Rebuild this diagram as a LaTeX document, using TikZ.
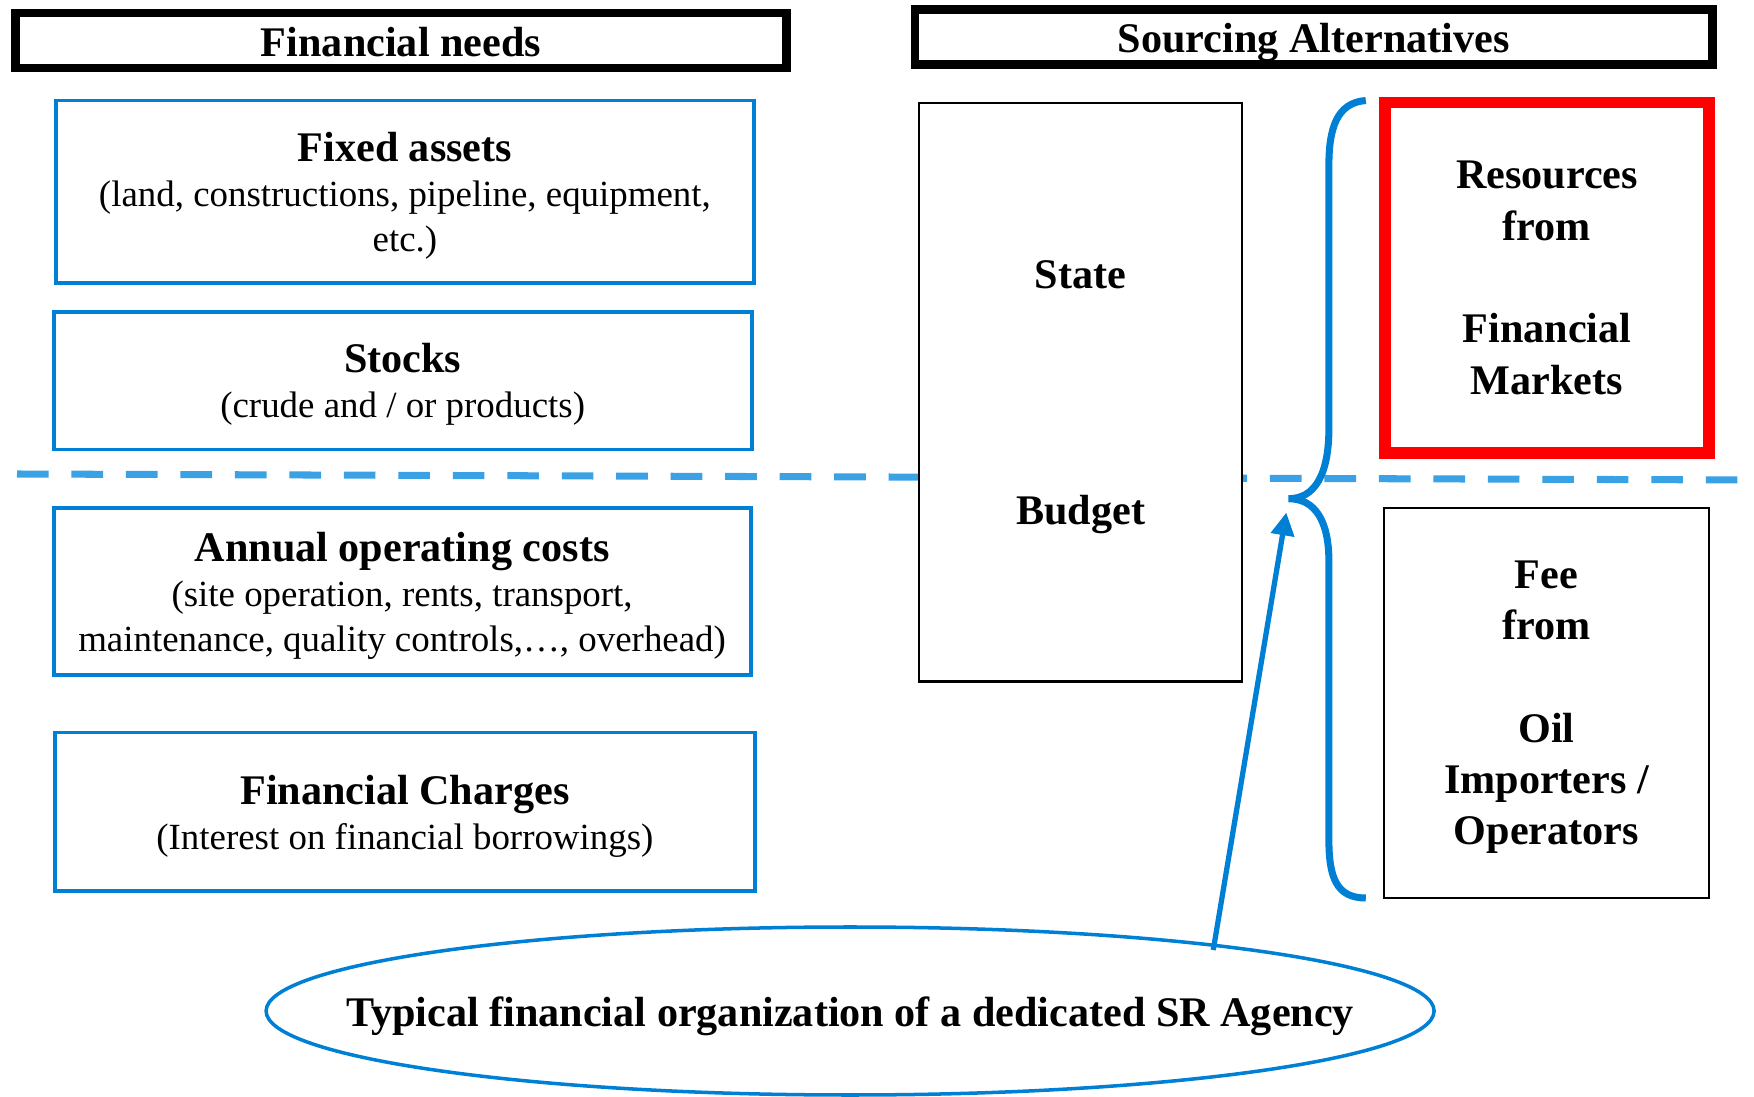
\documentclass[tikz,border=0pt]{standalone}
\usepackage{fontspec}
\setmainfont{Liberation Serif}
\usepackage{tikz}
\usetikzlibrary{arrows.meta, shapes.geometric}
\usepackage{xcolor}
\definecolor{boxblue}{RGB}{0,128,212}
\definecolor{dashblue}{RGB}{58,162,228}
\definecolor{srcred}{RGB}{255,0,0}

\begin{document}
\begin{tikzpicture}[
  head/.style={draw, line width=2.4pt, minimum width=7.71cm, minimum height=0.55cm, inner sep=0pt,
    text height=11.5pt, text depth=2.6pt, font=\fontsize{12}{14}\selectfont\bfseries},
  need/.style={draw=boxblue, line width=1.1pt, minimum width=6.98cm, align=center, inner sep=0pt,
    text depth=-2pt, font=\fontsize{10.5}{12.8}\selectfont},
  source/.style={draw, line width=0.6pt, fill=white, minimum width=3.24cm, align=center, inner sep=0pt,
    text depth=-3pt, font=\fontsize{12}{14.6}\selectfont\bfseries},
  >={Triangle[length=6.5pt, width=6.5pt]},
  brace/.style={boxblue, line width=2pt},
  hint/.style={->, boxblue, line width=1.5pt, shorten >=1.4mm}
]

\useasboundingbox (0,0) rectangle (17.54,10.96);

% --- Linia podziału (przerywana) ---
\coordinate (L) at (0.17,6.22);
\coordinate (R) at (17.54,6.16);
\draw[dashblue, line width=2pt, dash pattern=on 9pt off 6.5pt] (L) -- (R);

% --- Nagłówki ---
\node[head] (needs) at (4.010,10.554) {Financial needs};
\node[head, minimum width=7.976cm] (alts) at (13.138,10.588) {Sourcing Alternatives};

% --- Potrzeby finansowe (lewa kolumna) ---
\node[need, minimum height=1.823cm] (fixed) at (4.049,9.044)
    {{\fontsize{12}{13.6}\selectfont\bfseries Fixed assets}\\(land, constructions, pipeline, equipment,\\etc.)};
\node[need, minimum height=1.376cm] (stocks) at (4.027,7.153)
    {{\fontsize{12}{13.6}\selectfont\bfseries Stocks}\\(crude and / or products)};
\node[need, minimum width=6.97cm, minimum height=1.678cm] (annual) at (4.021,5.045)
    {{\fontsize{12}{13.6}\selectfont\bfseries Annual operating costs}\\(site operation, rents, transport,\\maintenance, quality controls,…, overhead)};
\node[need, minimum width=7.00cm, minimum height=1.588cm] (charges) at (4.049,2.841)
    {{\fontsize{12}{13.6}\selectfont\bfseries Financial Charges}\\(Interest on financial borrowings)};

% --- Źródła finansowania (prawa kolumna) ---
\node[source, minimum width=3.233cm, minimum height=5.783cm] (state) at (10.806,7.036)
    {State\\[52.6pt]Budget};
\node[source, draw=srcred, line width=3.3pt, minimum height=3.501cm] (market) at (15.470,8.183)
    {Resources\\from\\[14.6pt]Financial\\Markets};
\node[source, minimum width=3.255cm, minimum height=3.904cm] (fee) at (15.465,3.932)
    {Fee\\from\\[14.6pt]Oil\\Importers /\\Operators};

% --- Klamra ---
\coordinate (tip) at (12.886,5.973);
\draw[brace] (13.658,9.955) .. controls (13.367,9.933) and (13.289,9.676) .. (13.289,9.307)
  -- (13.289,6.678) .. controls (13.289,6.208) and (13.144,5.973) .. (tip)
  .. controls (13.144,5.973) and (13.289,5.761) .. (13.289,5.347)
  -- (13.289,2.562) .. controls (13.289,2.181) and (13.367,1.980) .. (13.658,1.980);

% --- Podpis w elipsie i strzałka do klamry ---
\node[ellipse, draw=boxblue, line width=1pt, minimum width=11.68cm, minimum height=1.68cm,
      inner xsep=-1cm, inner ysep=0pt, text height=11.5pt, text depth=2.6pt,
      font=\fontsize{12}{14}\selectfont\bfseries] (agency) at (8.501,0.850)
    {Typical financial organization of a dedicated SR Agency};
\draw[hint] ([shift={(-0.11,-0.05)}]agency.10) -- (tip);

\end{tikzpicture}
\end{document}
